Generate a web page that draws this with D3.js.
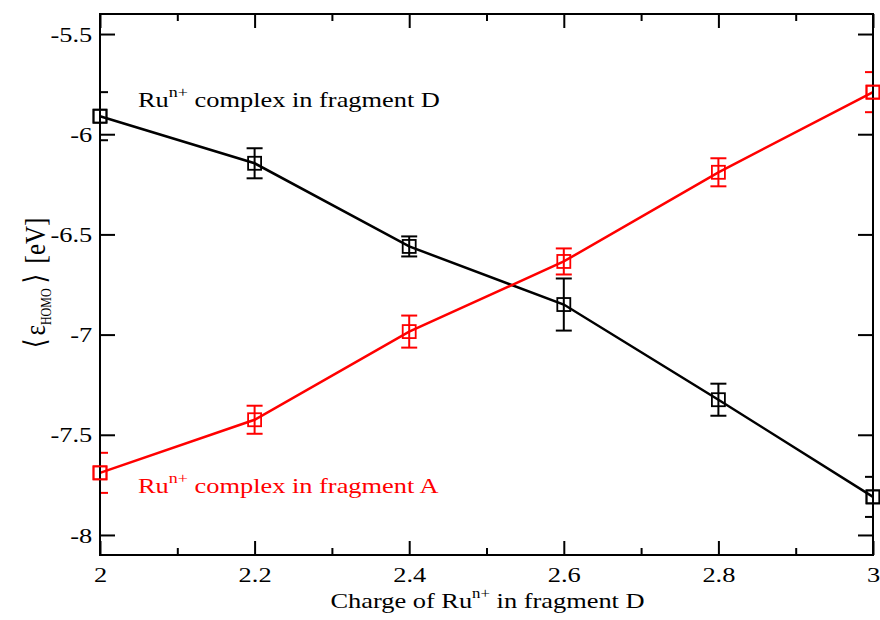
<!DOCTYPE html>
<html>
  <head>
    <meta charset="utf-8">
    <title>HOMO energy vs charge</title>
    <script src="https://d3js.org/d3.v7.min.js"></script>
    <style>
      body {
        margin: 0;
        background-color: white;
      }
      svg text {
        font-family: "Liberation Serif", "Times New Roman", "DejaVu Serif", serif;
      }
    </style>
  </head>
  <body>
    <script>
      // values
      const charges = [2, 2.2, 2.4, 2.6, 2.8, 3];
      const fragD = [-5.91, -6.145, -6.56, -6.85, -7.325, -7.81];
      const fragDErr = [0.12, 0.075, 0.05, 0.13, 0.08, 0.10];
      const fragA = [-7.69, -7.425, -6.985, -6.635, -6.19, -5.79];
      const fragAErr = [0.10, 0.07, 0.08, 0.065, 0.07, 0.10];

      const xTicks = [2, 2.2, 2.4, 2.6, 2.8, 3];
      const xMinorTicks = [2.1, 2.3, 2.5, 2.7, 2.9];
      const yTicks = [-5.5, -6, -6.5, -7, -7.5, -8];

      const w = 880;
      const h = 620;
      const pLeft = 100, pRight = 873, pTop = 14, pBottom = 555;
      // the original picture is a little wider than tall, text included
      const stretch = 1.2;
      const serif = '"Liberation Serif", "Times New Roman", "DejaVu Serif", serif';

      const svg = d3.select('body')
                    .append('svg')
                    .attr('width', w)
                    .attr('height', h);

      const x = d3.scaleLinear().domain([2, 3]).range([pLeft, pRight]);
      const y = d3.scaleLinear().domain([-8.1, -5.4]).range([pBottom, pTop]);

      svg.append('clipPath')
         .attr('id', 'plotClip')
         .append('rect')
         .attr('x', pLeft)
         .attr('y', pTop)
         .attr('width', pRight - pLeft)
         .attr('height', pBottom - pTop);

      const series = [
        {name: 'D', color: '#000000', values: fragD, errs: fragDErr},
        {name: 'A', color: '#ff0000', values: fragA, errs: fragAErr}
      ];

      const line = d3.line()
                     .x(d => x(d.x))
                     .y(d => y(d.y));

      series.forEach(s => {
        const pts = charges.map((c, i) => ({x: c, y: s.values[i], e: s.errs[i]}));
        const g = svg.append('g');

        g.append('path')
         .datum(pts)
         .attr('d', line)
         .attr('fill', 'none')
         .attr('stroke', s.color)
         .attr('stroke-width', 2.5);

        // error bars, clipped to the frame like the original
        const eb = g.append('g').attr('clip-path', 'url(#plotClip)');
        eb.selectAll('line.bar')
          .data(pts)
          .enter()
          .append('line')
          .attr('class', 'bar')
          .attr('x1', d => x(d.x))
          .attr('x2', d => x(d.x))
          .attr('y1', d => y(d.y - d.e))
          .attr('y2', d => y(d.y + d.e))
          .attr('stroke', s.color)
          .attr('stroke-width', 2);
        [1, -1].forEach(sign => {
          const cls = sign > 0 ? 'capu' : 'capl';
          eb.selectAll('line.' + cls)
            .data(pts)
            .enter()
            .append('line')
            .attr('class', cls)
            .attr('x1', d => x(d.x) - 8)
            .attr('x2', d => x(d.x) + 8)
            .attr('y1', d => y(d.y + sign * d.e))
            .attr('y2', d => y(d.y + sign * d.e))
            .attr('stroke', s.color)
            .attr('stroke-width', 2);
        });

        g.selectAll('rect.mark')
         .data(pts)
         .enter()
         .append('rect')
         .attr('class', 'mark')
         .attr('x', d => x(d.x) - 6.5)
         .attr('y', d => y(d.y) - 6.5)
         .attr('width', 13)
         .attr('height', 13)
         .attr('fill', 'none')
         .attr('stroke', s.color)
         .attr('stroke-width', 1.8);
      });

      // axes with inward ticks on all four sides
      const fmt = d => String(d);
      const styleAxis = sel => {
        sel.attr('font-family', null);
        sel.select('.domain').remove();
        sel.selectAll('line').attr('stroke', '#000').attr('stroke-width', 2);
        sel.selectAll('text')
           .attr('fill', '#000')
           .attr('transform', `scale(${stretch},1)`)
           .style('font-family', serif)
           .style('font-size', '22px');
      };

      svg.append('g')
         .attr('transform', `translate(0,${pBottom})`)
         .call(d3.axisBottom(x).tickValues(xTicks).tickSize(-14).tickPadding(8).tickFormat(fmt))
         .call(styleAxis)
         .selectAll('text')
         .attr('y', 27)
         .attr('dy', 0);
      svg.append('g')
         .attr('transform', `translate(0,${pBottom})`)
         .call(d3.axisBottom(x).tickValues(xMinorTicks).tickSize(-7).tickFormat(''))
         .call(styleAxis);
      svg.append('g')
         .attr('transform', `translate(0,${pTop})`)
         .call(d3.axisTop(x).tickValues(xTicks).tickSize(-14).tickFormat(''))
         .call(styleAxis);
      svg.append('g')
         .attr('transform', `translate(0,${pTop})`)
         .call(d3.axisTop(x).tickValues(xMinorTicks).tickSize(-7).tickFormat(''))
         .call(styleAxis);

      svg.append('g')
         .attr('transform', `translate(${pLeft},0)`)
         .call(d3.axisLeft(y).tickValues(yTicks).tickSize(-15).tickPadding(6.5).tickFormat(fmt))
         .call(styleAxis);
      svg.append('g')
         .attr('transform', `translate(${pRight},0)`)
         .call(d3.axisRight(y).tickValues(yTicks).tickSize(-15).tickFormat(''))
         .call(styleAxis);

      svg.append('rect')
         .attr('x', pLeft)
         .attr('y', pTop)
         .attr('width', pRight - pLeft)
         .attr('height', pBottom - pTop)
         .attr('fill', 'none')
         .attr('stroke', '#000')
         .attr('stroke-width', 2);

      // redraw markers at the left and right ends above the frame
      series.forEach(s => {
        [0, charges.length - 1].forEach(i => {
          svg.append('rect')
             .attr('x', x(charges[i]) - 6.5)
             .attr('y', y(s.values[i]) - 6.5)
             .attr('width', 13)
             .attr('height', 13)
             .attr('fill', 'none')
             .attr('stroke', s.color)
             .attr('stroke-width', 1.8);
        });
      });

      // series labels
      const addLabel = (tx, ty, color, rest) => {
        const t = svg.append('text')
                     .attr('transform', `translate(${tx},${ty}) scale(${stretch},1)`)
                     .attr('fill', color)
                     .style('font-size', '22px');
        t.append('tspan').text('Ru');
        t.append('tspan').attr('dy', -10).style('font-size', '15px').text('n+');
        t.append('tspan').attr('dy', 10).text(' ' + rest);
      };
      addLabel(138, 107, '#000', 'complex in fragment D');
      addLabel(138, 493, '#ff0000', 'complex in fragment A');

      // axis titles
      const xt = svg.append('text')
                    .attr('transform', `translate(${(pLeft + pRight) / 2 + 1},608) scale(${stretch},1)`)
                    .attr('text-anchor', 'middle')
                    .attr('fill', '#000')
                    .style('font-size', '22px');
      xt.append('tspan').text('Charge of Ru');
      xt.append('tspan').attr('dy', -10).style('font-size', '14px').text('n+');
      xt.append('tspan').attr('dy', 10).text(' in fragment D');

      const yt = svg.append('text')
                    .attr('transform', `translate(45,283) rotate(-90) scale(1,${stretch})`)
                    .attr('text-anchor', 'middle')
                    .attr('fill', '#000')
                    .style('font-size', '25px');
      yt.append('tspan').text('\u27E8');
      yt.append('tspan').attr('dx', 3).text('\u03B5');
      yt.append('tspan').attr('dy', 5).style('font-size', '12px').text('HOMO');
      yt.append('tspan').attr('dy', -5).attr('dx', 5).text('\u27E9');
      yt.append('tspan').attr('dx', 4).text(' [eV]');
    </script>
  </body>
</html>
